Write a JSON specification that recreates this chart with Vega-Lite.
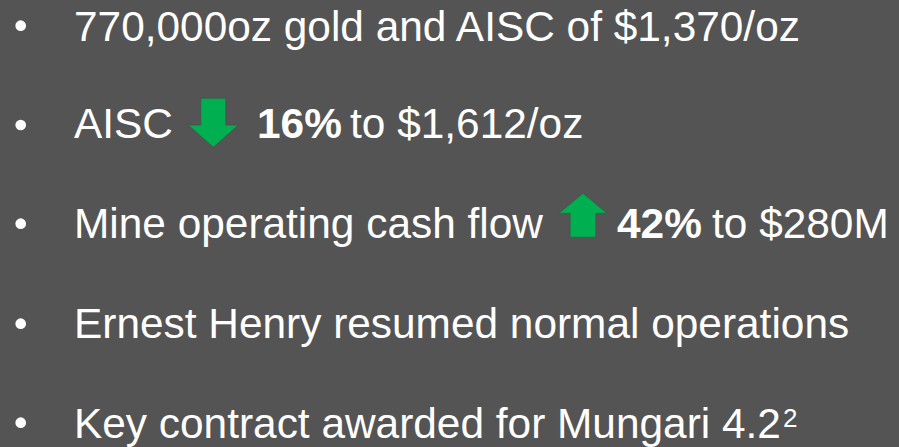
{
  "$schema": "https://vega.github.io/schema/vega-lite/v6.json",
  "width": 899,
  "height": 447,
  "autosize": {"type": "fit", "contains": "padding"},
  "padding": 0,
  "background": "#545454",
  "config": {"view": {"stroke": null}},
  "datasets": {
    "regular": [
      {"x": 74, "y": 40.7, "text": "770,000oz gold and AISC of $1,370/oz"},
      {"x": 74, "y": 138.3, "text": "AISC"},
      {"x": 350, "y": 138.3, "text": "to $1,612/oz"},
      {"x": 74, "y": 238.3, "text": "Mine operating cash flow"},
      {"x": 712, "y": 238.3, "text": "to $280M"},
      {"x": 74, "y": 338.3, "text": "Ernest Henry resumed normal operations"},
      {"x": 74, "y": 437.7, "text": "Key contract awarded for Mungari 4.2"}
    ],
    "bold": [
      {"x": 257, "y": 138.3, "text": "16%"},
      {"x": 617, "y": 238.3, "text": "42%"}
    ],
    "superscript": [
      {"x": 783, "y": 427, "text": "2"}
    ],
    "bullets": [
      {"x": 20.7, "y": 25.7},
      {"x": 20.7, "y": 125},
      {"x": 20.7, "y": 223.7},
      {"x": 20.7, "y": 323.7},
      {"x": 20.7, "y": 422.7}
    ],
    "down": [{"x": 213.3, "y": 122.8}],
    "up": [{"x": 583, "y": 215.3}]
  },
  "encoding": {
    "x": {"field": "x", "type": "quantitative", "scale": {"domain": [0, 899], "nice": false, "zero": false}, "axis": null},
    "y": {"field": "y", "type": "quantitative", "scale": {"domain": [0, 447], "nice": false, "zero": false, "reverse": true}, "axis": null}
  },
  "layer": [
    {
      "data": {"name": "bullets"},
      "mark": {"type": "point", "shape": "circle", "filled": true, "size": 114, "color": "#ffffff", "opacity": 1}
    },
    {
      "data": {"name": "down"},
      "mark": {"type": "point", "shape": "M-0.5,-0.98L0.5,-0.98L0.5,0.09L1,0.09L0,0.98L-1,0.09L-0.5,0.09Z", "filled": true, "size": 2500, "color": "#00b050", "stroke": "#4a4a4a", "strokeWidth": 1, "strokeOpacity": 0.6, "opacity": 1}
    },
    {
      "data": {"name": "up"},
      "mark": {"type": "point", "shape": "M0,-0.917L1,-0.083L0.535,-0.083L0.535,0.917L-0.535,0.917L-0.535,-0.083L-1,-0.083Z", "filled": true, "size": 2304, "color": "#00b050", "stroke": "#4a4a4a", "strokeWidth": 1, "strokeOpacity": 0.6, "opacity": 1}
    },
    {
      "data": {"name": "regular"},
      "mark": {"type": "text", "align": "left", "baseline": "alphabetic", "font": "Liberation Sans", "fontSize": 42.4, "color": "#ffffff"},
      "encoding": {"text": {"field": "text", "type": "nominal"}}
    },
    {
      "data": {"name": "bold"},
      "mark": {"type": "text", "align": "left", "baseline": "alphabetic", "font": "Liberation Sans", "fontWeight": "bold", "fontSize": 42.4, "color": "#ffffff"},
      "encoding": {"text": {"field": "text", "type": "nominal"}}
    },
    {
      "data": {"name": "superscript"},
      "mark": {"type": "text", "align": "left", "baseline": "alphabetic", "font": "Liberation Sans", "fontSize": 26, "color": "#ffffff"},
      "encoding": {"text": {"field": "text", "type": "nominal"}}
    }
  ]
}
